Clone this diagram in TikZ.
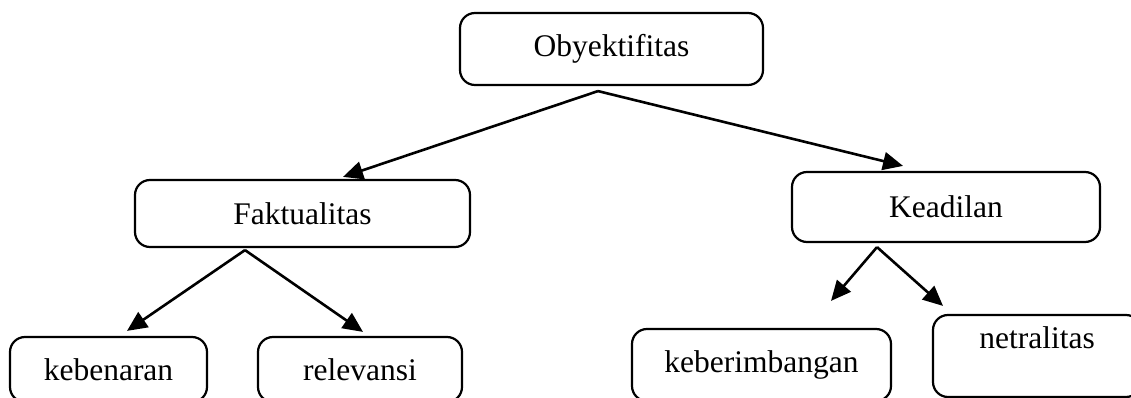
\documentclass[tikz,border=0pt]{standalone}
\usepackage{fontspec}
\setmainfont{Liberation Serif}
\usetikzlibrary{arrows.meta,calc}
\begin{document}
\begin{tikzpicture}[x=1pt,y=-1pt,
  box/.style={draw,line width=2.2pt,rounded corners=15pt,inner sep=0pt,
    font=\fontsize{31.5}{37}\selectfont},
  arr/.style={line width=2.6pt,-{Triangle[length=20pt,width=18pt]}}]
\useasboundingbox (0,0) rectangle (1131,398);
\clip (0,0) rectangle (1131,398);
\node[box,minimum width=303pt,minimum height=72pt] (oby) at (611.5,49) {Obyektifitas};
\node[box,minimum width=335pt,minimum height=67pt] (fak) at (302.5,213.5) {Faktualitas};
\node[box,minimum width=308pt,minimum height=70pt] (kea) at (946,207) {Keadilan};
\node[box,minimum width=197pt,minimum height=65pt] (keb) at (108.5,369.5) {kebenaran};
\node[box,minimum width=204pt,minimum height=65pt] (rel) at (360,369.5) {relevansi};
\node[box,minimum width=259pt,minimum height=72pt] (kbi) at (761.5,365) {keberimbangan};
\node[box,minimum width=208pt,minimum height=82pt,text depth=37pt] (net) at (1037,356) {netralitas};
\draw[arr] ($(oby.south)+(-13.5,5)$) -- ($(fak.north)+(40.5,-2)$);
\draw[arr] ($(oby.south)+(-13.5,5)$) -- ($(kea.north)+(-43,-5)$);
\draw[arr] ($(fak.south)+(-57.5,2)$) -- ($(keb.north)+(18.5,-5)$);
\draw[arr] ($(fak.south)+(-57.5,2)$) -- ($(rel.north)+(3,-4)$);
\draw[arr] ($(kea.south)+(-69,4)$) -- ($(kbi.north)+(69.5,-27)$);
\draw[arr] ($(kea.south)+(-69,4)$) -- ($(net.north)+(-94,-8)$);
\end{tikzpicture}
\end{document}
